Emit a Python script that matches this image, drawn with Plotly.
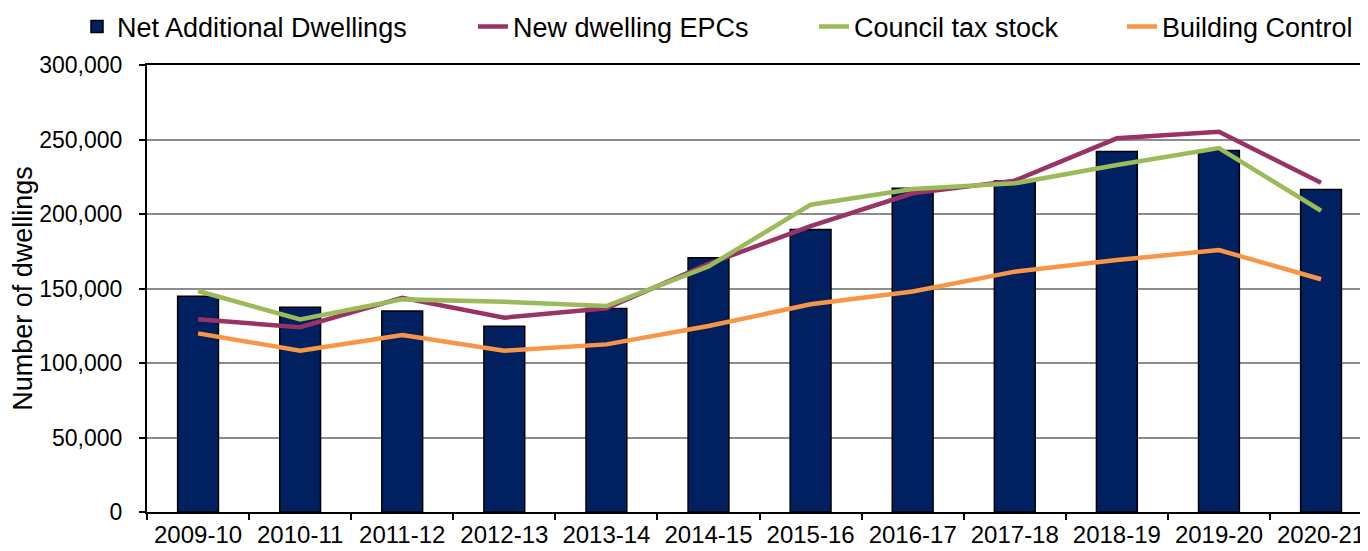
import plotly.graph_objects as go

years = ["2009-10", "2010-11", "2011-12", "2012-13", "2013-14", "2014-15",
         "2015-16", "2016-17", "2017-18", "2018-19", "2019-20", "2020-21"]
net_additional = [144870, 137390, 134900, 124720, 136610, 170690,
                  189650, 217350, 222190, 241880, 242700, 216490]
epcs = [129300, 124000, 143800, 130400, 136700, 166500,
        191900, 213900, 222400, 250800, 255200, 221000]
council_tax = [148300, 129300, 142700, 141100, 138200, 164800,
               206200, 216800, 220600, 232900, 244200, 202200]
building_control = [119900, 108300, 118800, 108300, 112500, 124800,
                    139400, 148000, 161300, 169100, 175800, 156200]

y_ticks = [0, 50000, 100000, 150000, 200000, 250000, 300000]

FONT = "Liberation Sans, Arial, sans-serif"
OFF = 8  # default page body margin
W, H = 1368 - OFF, 551 - OFF
L, R, T = 147 - OFF, 0, 65 - OFF
PH = 447
B = H - T - PH
PW = W - L - R

def lx(px_text_start):
    # legend box x (paper) so that entry text starts at given page pixel
    return (px_text_start - 41 - (L + OFF)) / PW

fig = go.Figure()
fig.add_trace(go.Bar(
    x=years, y=net_additional, name="Net Additional Dwellings",
    marker=dict(color="#002060", line=dict(color="#000000", width=1.5)),
    width=0.4, legend="legend",
))
fig.add_trace(go.Scatter(x=years, y=epcs, name="New dwelling EPCs", mode="lines",
                         line=dict(color="#993366", width=4.5), legend="legend2"))
fig.add_trace(go.Scatter(x=years, y=council_tax, name="Council tax stock", mode="lines",
                         line=dict(color="#9BBB59", width=4.5), legend="legend3"))
fig.add_trace(go.Scatter(x=years, y=building_control, name="Building Control", mode="lines",
                         line=dict(color="#F79646", width=4.5), legend="legend4"))

legend_common = dict(orientation="h", xanchor="left", y=(512 - 27) / PH, yanchor="middle",
                     font=dict(family=FONT, size=27, color="#000000"),
                     bgcolor="rgba(0,0,0,0)")

fig.update_layout(
    width=W, height=H,
    margin=dict(l=L, r=R, t=T, b=B, pad=0, autoexpand=False),
    paper_bgcolor="white", plot_bgcolor="white",
    font=dict(family=FONT, size=23, color="#000000"),
    showlegend=True,
    legend=dict(x=lx(118), **legend_common),
    legend2=dict(x=lx(514), **legend_common),
    legend3=dict(x=lx(855), **legend_common),
    legend4=dict(x=lx(1163), **legend_common),
    xaxis=dict(
        type="category", range=[-0.5, 11.46], automargin=False,
        showline=True, linecolor="#000000", linewidth=2, mirror=True,
        ticks="outside", ticklen=6, tickwidth=2, tickcolor="#000000",
        tickson="boundaries", showgrid=False,
        tickfont=dict(family=FONT, size=24, color="#000000"),
    ),
    yaxis=dict(
        range=[0, 300000], tickvals=y_ticks, tickformat=",", automargin=False,
        showline=True, linecolor="#000000", linewidth=2,
        ticks="outside", ticklen=6, tickwidth=2, tickcolor="#000000",
        ticklabelstandoff=12,
        showgrid=True, gridcolor="#8c8c8c", gridwidth=1.5,
        zeroline=False,
        tickfont=dict(family=FONT, size=23, color="#000000"),
        title=dict(text="Number of dwellings", font=dict(family=FONT, size=27, color="#000000"),
                   standoff=0),
    ),
)

fig.write_html("out.html")
